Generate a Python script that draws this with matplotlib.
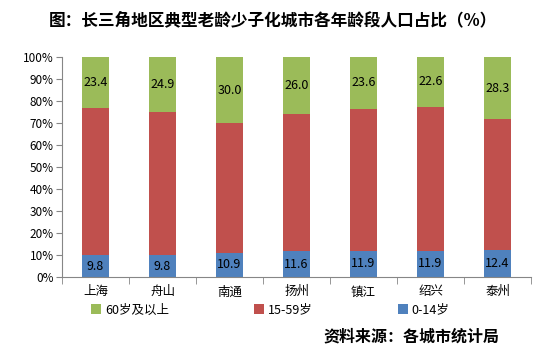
import numpy as np
import matplotlib.pyplot as plt
from matplotlib.ticker import PercentFormatter

plt.rcParams['font.family'] = ['Noto Sans CJK SC', 'DejaVu Sans']

cities = ["上海", "舟山", "南通", "扬州", "镇江", "绍兴", "泰州"]
age_0_14 = [9.8, 9.8, 10.9, 11.6, 11.9, 11.9, 12.4]
age_60_plus = [23.4, 24.9, 30.0, 26.0, 23.6, 22.6, 28.3]
age_15_59 = [100 - a - b for a, b in zip(age_0_14, age_60_plus)]

fig = plt.figure(figsize=(5.46, 3.6), dpi=100)
ax = fig.add_axes([0.1136, 0.2306, 0.859, 0.611])

x = np.arange(len(cities))
w = 0.4
b1 = ax.bar(x, age_0_14, w, color='#4F81BD', label='0-14岁')
b2 = ax.bar(x, age_15_59, w, bottom=age_0_14, color='#C0504D', label='15-59岁')
bottom3 = [a + b for a, b in zip(age_0_14, age_15_59)]
b3 = ax.bar(x, age_60_plus, w, bottom=bottom3, color='#9BBB59', label='60岁及以上')

for i in range(len(cities)):
    ax.text(x[i], age_0_14[i] / 2, f"{age_0_14[i]:.1f}", ha='center', va='center', fontsize=9)
    ax.text(x[i], bottom3[i] + age_60_plus[i] / 2, f"{age_60_plus[i]:.1f}", ha='center', va='center', fontsize=9)

ax.set_xlim(-0.5, len(cities) - 0.5)
ax.set_ylim(0, 100)
ax.set_yticks(range(0, 101, 10))
ax.yaxis.set_major_formatter(PercentFormatter(decimals=0))
ax.set_xticks(x)
ax.set_xticklabels(cities, fontsize=9)
ax.set_xticks(np.arange(-0.5, len(cities)), minor=True)
ax.tick_params(axis='x', which='major', length=0, pad=6)
ax.tick_params(axis='x', which='minor', length=5, color='#868686')
ax.tick_params(axis='y', length=4, color='#868686', labelsize=8.5, pad=2)
for s in ['top', 'right']:
    ax.spines[s].set_visible(False)
for s in ['left', 'bottom']:
    ax.spines[s].set_color('#868686')

fig.legend(handles=[b3, b2, b1], loc='center', bbox_to_anchor=(0.495, 0.139), ncol=3,
           frameon=False, fontsize=9, handlelength=0.8, handleheight=0.8,
           handletextpad=0.3, columnspacing=6.8)

fig.text(0.5, 0.945, "图：长三角地区典型老龄少子化城市各年龄段人口占比（%）",
         ha='center', va='center', fontsize=12, fontweight='bold')
fig.text(0.915, 0.065, "资料来源：各城市统计局", ha='right', va='center',
         fontsize=11.5, fontweight='bold')

fig.savefig('out.png', dpi=100)
